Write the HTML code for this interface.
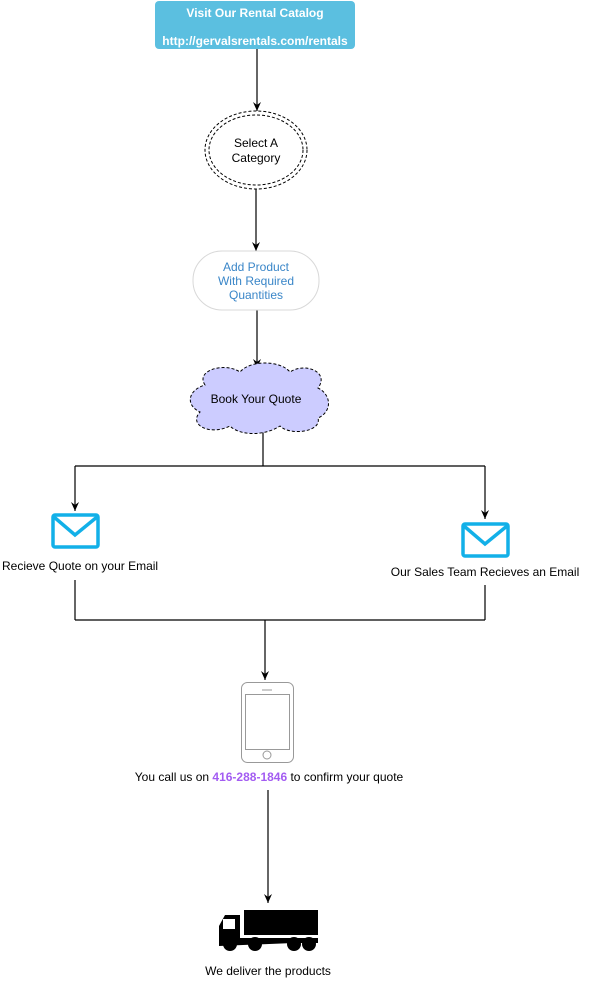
<!DOCTYPE html>
<html><head><meta charset="utf-8"><style>
html,body{margin:0;padding:0;background:#fff;}
svg{display:block;font-family:"Liberation Sans",Arial,sans-serif;}
</style></head><body>
<svg width="590" height="982" viewBox="0 0 590 982">
<defs><marker id="a" markerWidth="12" markerHeight="12" refX="9" refY="5" orient="auto" markerUnits="userSpaceOnUse"><path d="M0,1 L9,5 L0,9 L3,5 Z" fill="#000"/></marker></defs>
<rect x="155" y="1" width="200" height="48" rx="4" fill="#5bbfe0"/>
<text x="255" y="17" text-anchor="middle" font-size="12" font-weight="bold" fill="#fff">Visit Our Rental Catalog</text>
<text x="255" y="45" text-anchor="middle" font-size="12" font-weight="bold" fill="#fff">http://gervalsrentals.com/rentals</text>
<g stroke="#000" stroke-width="1.2" fill="none">
<line x1="257" y1="49" x2="257" y2="111" marker-end="url(#a)"/>
<line x1="256" y1="188" x2="256" y2="251" marker-end="url(#a)"/>
<line x1="257" y1="310" x2="257" y2="368" marker-end="url(#a)"/>
<line x1="263" y1="432" x2="263" y2="466"/>
<line x1="75" y1="466" x2="485" y2="466"/>
<line x1="75" y1="466" x2="75" y2="511" marker-end="url(#a)"/>
<line x1="485" y1="466" x2="485" y2="519" marker-end="url(#a)"/>
<line x1="75" y1="580" x2="75" y2="620"/>
<line x1="485" y1="585" x2="485" y2="620"/>
<line x1="75" y1="620" x2="485" y2="620"/>
<line x1="265" y1="620" x2="265" y2="680" marker-end="url(#a)"/>
<line x1="268" y1="790" x2="268" y2="903" marker-end="url(#a)"/>
</g>
<g stroke="#000" stroke-dasharray="3,2" fill="#fff">
<ellipse cx="256" cy="150" rx="51" ry="39"/>
<ellipse cx="256" cy="150" rx="47" ry="35"/>
</g>
<text x="256" y="147" text-anchor="middle" font-size="12">Select A</text>
<text x="256" y="162" text-anchor="middle" font-size="12">Category</text>
<rect x="193" y="251" width="126" height="59" rx="29" fill="#fff" stroke="#d8d8d8"/>
<g fill="#3a86c8" font-size="12" text-anchor="middle">
<text x="256" y="271">Add Product</text><text x="256" y="285">With Required</text><text x="256" y="299">Quantities</text></g>
<path d="M205,385 C195,370 225,362 240,372 C250,360 280,360 290,372 C305,362 330,372 318,388 C332,395 332,412 318,418 C322,432 290,436 280,426 C265,436 240,436 230,426 C210,436 188,425 200,412 C185,405 188,390 205,385 Z" fill="#ccccff" stroke="#000" stroke-dasharray="3,2"/>
<text x="256" y="403" text-anchor="middle" font-size="12">Book Your Quote</text>
<g fill="none" stroke="#12b0e8" stroke-width="3.5">
<rect x="53" y="515" width="45" height="32" rx="2"/><path d="M54,517 L75,535 L97,517"/>
<rect x="463" y="524" width="45" height="32" rx="2"/><path d="M464,526 L485,544 L507,526"/>
</g>
<text x="2" y="570" font-size="12">Recieve Quote on your Email</text>
<text x="485" y="576" text-anchor="middle" font-size="12">Our Sales Team Recieves an Email</text>
<g fill="none" stroke="#999" stroke-width="1">
<rect x="241.5" y="682.5" width="52" height="80" rx="6"/>
<rect x="245.5" y="694.5" width="44" height="55"/>
<line x1="262" y1="690" x2="272" y2="690"/>
<circle cx="267" cy="755" r="4"/>
</g>
<text x="269" y="781" text-anchor="middle" font-size="12">You call us on <tspan fill="#a35cf2" font-weight="bold">416-288-1846</tspan> to confirm your quote</text>
<g fill="#000">
<rect x="244" y="910" width="74" height="25"/>
<path d="M219,946 L219,926 L225,915 L240,915 L240,938 L318,938 L318,942 Z"/>
<rect x="219" y="938" width="99" height="5"/>
<circle cx="230" cy="944" r="7"/><circle cx="255" cy="944" r="7"/><circle cx="294" cy="944" r="7"/><circle cx="309" cy="944" r="7"/>
</g>
<rect x="223" y="919" width="12" height="10" fill="#fff"/>
<text x="268" y="975" text-anchor="middle" font-size="12">We deliver the products</text>
</svg>
</body></html>
